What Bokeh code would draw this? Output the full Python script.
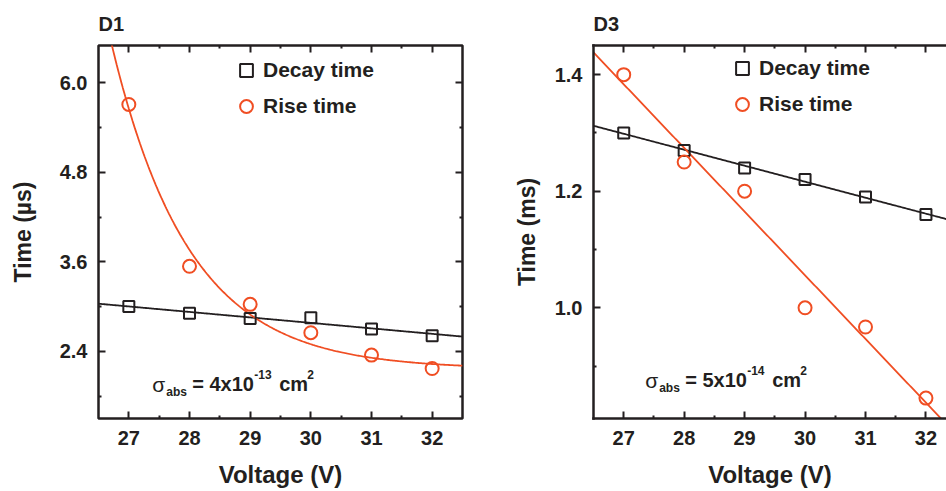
import numpy as np
from bokeh.plotting import figure
from bokeh.models import (Range1d, LinearAxis, FixedTicker, Legend, LegendItem,
                          Label, ColumnDataSource, PrintfTickFormatter,
                          CustomJSTickFormatter)
from bokeh.layouts import row
from bokeh.embed import file_html
from bokeh.resources import INLINE

# ---------------- data ----------------
voltage = [27, 28, 29, 30, 31, 32]
d1_decay = [3.00, 2.91, 2.84, 2.85, 2.70, 2.61]      # µs
d1_rise = [5.71, 3.54, 3.03, 2.65, 2.35, 2.17]       # µs
d3_decay = [1.30, 1.27, 1.24, 1.22, 1.19, 1.16]      # ms
d3_rise = [1.40, 1.25, 1.20, 1.00, 0.967, 0.845]     # ms

x_major = [27, 28, 29, 30, 31, 32]
x_minor = [27.5, 28.5, 29.5, 30.5, 31.5]
d1_y_major = [2.4, 3.6, 4.8, 6.0]
d1_y_minor = [1.8, 3.0, 4.2, 5.4]
d3_y_major = [1.0, 1.2, 1.4]
d3_y_minor = [0.9, 1.1, 1.3]

legend_labels = ["Decay time", "Rise time"]
titles = ["D1", "D3"]
y_titles = ["Time (\u00b5s)", "Time (ms)"]
x_title = "Voltage (V)"
sigma_exp = ["-13", "-14"]
sigma_mant = ["= 4x10", "= 5x10"]

INK = "#231f20"
ORANGE = "#f04e23"
FONT = "Liberation Sans"


# ---------------- fits ----------------
def lin_fit(x, y, xs):
    k, b = np.polyfit(x, y, 1)
    return k * xs + b


def exp_fit(x, y, xs):
    x = np.asarray(x, float)
    y = np.asarray(y, float)
    best = None
    for y0 in np.linspace(0.0, y.min() - 0.01, 150):
        for k in np.linspace(0.2, 3.0, 281):
            e = np.exp(-k * (x - x[0]))
            A = np.dot(e, y - y0) / np.dot(e, e)
            sse = np.sum((A * e + y0 - y) ** 2)
            if best is None or sse < best[0]:
                best = (sse, y0, k, A)
    _, y0, k, A = best
    return A * np.exp(-k * (xs - x[0])) + y0


def style_axis(ax, labels=True, line=False):
    ax.major_tick_in = 7
    ax.major_tick_out = 0
    ax.minor_tick_in = 3
    ax.minor_tick_out = 0
    ax.major_tick_line_width = 2
    ax.minor_tick_line_width = 2
    ax.major_tick_line_color = INK
    ax.minor_tick_line_color = INK
    if line:
        ax.axis_line_color = INK
        ax.axis_line_width = 2.5
        ax.axis_line_cap = "square"
    else:
        ax.axis_line_color = None
    ax.major_label_text_font = FONT
    ax.major_label_text_font_style = "bold"
    ax.major_label_text_color = INK
    if labels:
        ax.major_label_text_font_size = "20px"
        ax.major_label_standoff = 10
    else:
        ax.formatter = CustomJSTickFormatter(code="return ''")
        ax.major_label_text_font_size = "1px"
        ax.major_label_standoff = 0
    ax.axis_label_text_font = FONT
    ax.axis_label_text_font_style = "bold"
    ax.axis_label_text_font_size = "23px"
    ax.axis_label_text_color = INK


def make_panel(title, ytitle, xr, yr, ymaj, ymin, decay, rise, rise_kind,
               width, borders, label_standoff_y, legend_loc, sig_anchor,
               mant, expo, boxed):
    p = figure(width=width, height=491, output_backend="svg",
               toolbar_location=None, x_range=Range1d(*xr), y_range=Range1d(*yr),
               min_border_left=borders[0], min_border_right=borders[1],
               min_border_top=borders[2], min_border_bottom=borders[3],
               background_fill_color="white", border_fill_color="white")
    p.grid.visible = False
    p.title.text = title
    p.title.text_font = FONT
    p.title.text_font_size = "20px"
    p.title.text_font_style = "bold"
    p.title.text_color = INK
    p.title.align = "left"
    p.title.standoff = 21
    if boxed:
        p.outline_line_color = INK
        p.outline_line_width = 2.5
    else:
        p.outline_line_color = None

    xt = FixedTicker(ticks=x_major, minor_ticks=x_minor)
    yt = FixedTicker(ticks=ymaj, minor_ticks=ymin)

    xa = p.xaxis[0]
    xa.ticker = xt
    xa.axis_label = x_title
    style_axis(xa, True, not boxed)
    xa.major_label_standoff = 12
    xa.axis_label_standoff = 13
    xa.axis_label_text_font_size = "24px"

    ya = p.yaxis[0]
    ya.ticker = yt
    ya.formatter = PrintfTickFormatter(format="%.1f")
    ya.axis_label = ytitle
    style_axis(ya, True, not boxed)
    ya.major_label_standoff = 11
    ya.axis_label_standoff = label_standoff_y

    top = LinearAxis(ticker=FixedTicker(ticks=x_major, minor_ticks=x_minor))
    style_axis(top, False, not boxed)
    p.add_layout(top, "above")
    if boxed:
        right = LinearAxis(ticker=FixedTicker(ticks=ymaj, minor_ticks=ymin))
        style_axis(right, False, False)
        p.add_layout(right, "right")

    xs = np.linspace(xr[0], xr[1], 300)
    decay_fit = lin_fit(voltage, decay, xs)
    rise_fit = exp_fit(voltage, rise, xs) if rise_kind == "exp" else lin_fit(voltage, rise, xs)
    p.line(xs, decay_fit, line_color=INK, line_width=1.8)
    p.line(xs, rise_fit, line_color=ORANGE, line_width=1.8)

    src = ColumnDataSource(dict(v=voltage, d=decay, r=rise))
    sq = p.scatter("v", "d", source=src, marker="square", size=11,
                   fill_color=None, line_color=INK, line_width=2)
    ci = p.scatter("v", "r", source=src, marker="circle", size=13,
                   fill_color=None, line_color=ORANGE, line_width=2)

    leg = Legend(items=[LegendItem(label=legend_labels[0], renderers=[sq]),
                        LegendItem(label=legend_labels[1], renderers=[ci])],
                 location=legend_loc, padding=0, margin=0, spacing=4,
                 glyph_width=32, glyph_height=32, label_height=20,
                 label_standoff=1, border_line_color=None,
                 background_fill_alpha=0,
                 label_text_font=FONT, label_text_font_style="bold",
                 label_text_font_size="21px", label_text_color=INK)
    p.add_layout(leg)

    ax_, ay_ = sig_anchor
    parts = [
        ("\u03c3", 0, 0, "21px", "normal"),
        ("abs", 14, -8, "12px", "bold"),
        (mant, 40, 0, "20px", "bold"),
        (expo, 102, 10, "12px", "bold"),
        ("cm", 127, 0, "20px", "bold"),
        ("2", 155, 10, "12px", "bold"),
    ]
    for txt, dx, dy, fs, st in parts:
        p.add_layout(Label(x=ax_, y=ay_, x_offset=dx, y_offset=dy, text=txt,
                           text_font=FONT, text_font_size=fs, text_font_style=st,
                           text_color=INK, text_baseline="alphabetic"))
    return p


p1 = make_panel(titles[0], y_titles[0], (26.5, 32.5), (1.5, 6.5),
                d1_y_major, d1_y_minor, d1_decay, d1_rise, "exp",
                505, (98, 43, 44, 71), 21, (132, 296), (27.386, 1.959),
                sigma_mant[0], sigma_exp[0], True)
p2 = make_panel(titles[1], y_titles[1], (26.5, 32.34), (0.81, 1.45),
                d3_y_major, d3_y_minor, d3_decay, d3_rise, "lin",
                441, (88, 0, 42, 73), 12, (133, 298), (27.355, 0.876),
                sigma_mant[1], sigma_exp[1], False)

layout = row(p1, p2)
open("out.html", "w").write(file_html(layout, INLINE))
